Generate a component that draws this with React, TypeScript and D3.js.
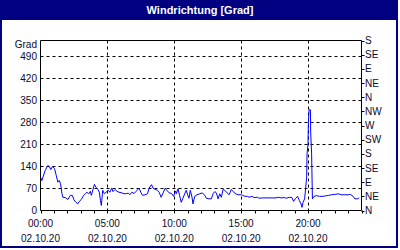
import React from "react";
import * as d3 from "d3";

const titleText = "Windrichtung [Grad]";
const unitLabel = "Grad";
const dateLabel = "02.10.20";
const leftTicks = [0, 70, 140, 210, 280, 350, 420, 490];
const rightTickValues = [0, 45, 90, 135, 180, 225, 270, 315, 360, 405, 450, 495, 540];
const rightTickLabels = ["N", "NE", "E", "SE", "S", "SW", "W", "NW", "N", "NE", "E", "SE", "S"];
const majorHours = [0, 5, 10, 15, 20];

// time in decimal hours (02.10.20), wind direction in degrees
const hours = [
  0.0, 0.1, 0.35, 0.55, 0.68, 0.77, 0.9, 1.05, 1.18, 1.3, 1.4, 1.5, 1.6, 1.67, 1.85, 2.05, 2.23, 2.38, 2.5, 2.65,
  2.78, 2.9, 3.05, 3.23, 3.35, 3.47, 3.6, 3.73, 3.8, 3.92, 4.03, 4.15, 4.3, 4.4, 4.48, 4.55, 4.65, 4.78, 4.9,
  5.08, 5.18, 5.33, 5.42, 5.57, 5.72, 5.87, 6.08, 6.25, 6.43, 6.58, 6.68, 6.83, 7.0, 7.13, 7.28, 7.37, 7.5, 7.63,
  7.82, 8.0, 8.12, 8.3, 8.42, 8.57, 8.75, 8.87, 9.02, 9.17, 9.32, 9.45, 9.62, 9.8, 9.95, 10.1, 10.15, 10.28, 10.4,
  10.52, 10.65, 10.78, 10.9, 11.0, 11.1, 11.2, 11.33, 11.4, 11.53, 11.7, 11.9, 12.1, 12.28, 12.4, 12.6, 12.77,
  12.9, 13.03, 13.15, 13.28, 13.4, 13.52, 13.65, 13.78, 13.95, 14.1, 14.27, 14.4, 14.6, 14.78, 15.02, 15.1, 15.3,
  15.47, 15.6, 15.8, 15.98, 16.22, 16.35, 16.6, 17.1, 17.6, 17.8, 17.98, 18.23, 18.4, 18.6, 18.8, 18.92, 19.05,
  19.22, 19.35, 19.48, 19.55, 19.63, 19.75, 19.82, 19.9, 19.93, 20.0, 20.03, 20.08, 20.18, 20.2, 20.27, 20.33,
  20.45, 20.63, 20.87, 21.13, 21.38, 21.55, 21.75, 22.0, 22.25, 22.5, 22.75, 23.0, 23.17, 23.38, 23.5, 23.68, 23.83,
];
const degrees = [
  106, 95, 127, 143, 138, 130, 140, 133, 111, 90, 95, 85, 55, 42, 41, 35, 48, 48, 34, 26,
  21, 29, 35, 48, 53, 58, 53, 61, 48, 66, 83, 74, 66, 58, 32, 16, 64, 53, 58,
  64, 58, 71, 60, 67, 61, 58, 56, 53, 54, 55, 50, 58, 54, 60, 67, 71, 58, 48,
  50, 53, 71, 82, 71, 67, 64, 58, 42, 56, 71, 64, 56, 54, 45, 62, 53, 69, 48,
  26, 39, 53, 64, 50, 39, 64, 42, 21, 45, 50, 53, 56, 48, 39, 37, 37,
  53, 60, 56, 37, 53, 42, 67, 64, 56, 50, 67, 60, 53, 50, 50, 48, 45,
  45, 42, 45, 41, 42, 39, 40, 40, 40, 42, 40, 41, 39, 42, 41, 29, 37,
  45, 32, 21, 10, 26, 37, 69, 106, 180, 212, 281, 320, 320, 249, 180, 37,
  45, 47, 45, 45, 47, 48, 50, 51, 53, 50, 50, 50, 51, 45, 37, 37, 40,
];

const W = 400;
const H = 250;
const L = 40.5;
const R = 361.5;
const T = 40.5;
const B = 210.5;
const FONT = "'Liberation Sans', Arial, sans-serif";
const TEXT = "#0a0a30";
const NAVY = "#000080";

export default function App() {
  const x = d3.scaleLinear().domain([0, 24]).range([L, R]);
  const y = d3.scaleLinear().domain([0, 540]).range([B, T]);
  const pts = hours.map((h, i) => [h, degrees[i]] as [number, number]);
  const line = d3
    .line<[number, number]>()
    .x((d) => x(d[0]))
    .y((d) => y(d[1]));
  const hourTicks = d3.range(0, 25);
  const pad = (n: number) => String(n).padStart(2, "0");

  return (
    <svg
      width={W}
      height={H}
      style={{ position: "absolute", left: 0, top: 0, display: "block" }}
      fontFamily={FONT}
    >
      <rect x={0} y={0} width={W} height={H} fill="#fff" />
      <rect x={1} y={1} width={396} height={246} fill="#fff" stroke={NAVY} strokeWidth={2} />
      <rect x={0} y={0} width={398} height={20} fill={NAVY} />
      <text x={200} y={14} textAnchor="middle" fill="#fff" fontWeight="bold" fontSize={11}>
        {titleText}
      </text>

      {/* grid */}
      {leftTicks.slice(1).map((v) => (
        <line key={"h" + v} x1={L} x2={R} y1={Math.round(y(v)) + 0.5} y2={Math.round(y(v)) + 0.5}
          stroke="#000" strokeDasharray="3,3" />
      ))}
      {majorHours.slice(1).map((h) => (
        <line key={"v" + h} x1={Math.round(x(h)) + 0.5} x2={Math.round(x(h)) + 0.5} y1={T} y2={B}
          stroke="#000" strokeDasharray="3,3" />
      ))}

      {/* data */}
      <path d={line(pts) || ""} fill="none" stroke="#0000ff" strokeWidth={1} />

      {/* frame */}
      <line x1={L} x2={R} y1={T} y2={T} stroke="#000" />
      <line x1={L} x2={R} y1={B} y2={B} stroke="#000" />
      <line x1={L} x2={L} y1={T} y2={B} stroke="#000" />
      <line x1={R} x2={R} y1={T} y2={B} stroke="#000" />

      {/* bottom ticks */}
      {hourTicks.map((h) => (
        <line key={"t" + h} x1={Math.round(x(h)) + 0.5} x2={Math.round(x(h)) + 0.5} y1={B} y2={B + 3} stroke="#000" />
      ))}
      {majorHours.map((h) => (
        <g key={"l" + h} fontSize={10} fill={TEXT} textAnchor="middle">
          <text x={x(h)} y={227}>{pad(h) + ":00"}</text>
          <text x={x(h)} y={242}>{dateLabel}</text>
        </g>
      ))}

      {/* left labels */}
      <text x={37} y={48} textAnchor="end" fontSize={10} fill={TEXT}>{unitLabel}</text>
      {leftTicks.map((v) => (
        <text key={"ly" + v} x={37} y={y(v) + 3.5} textAnchor="end" fontSize={10} fill={TEXT}>{v}</text>
      ))}

      {/* right axis */}
      {rightTickValues.map((v, i) => (
        <g key={"r" + i}>
          <line x1={R} x2={R + 3} y1={Math.round(y(v)) + 0.5} y2={Math.round(y(v)) + 0.5} stroke="#000" />
          <text x={365} y={y(v) + 3.5} fontSize={10} fill={TEXT}>{rightTickLabels[i]}</text>
        </g>
      ))}
    </svg>
  );
}
